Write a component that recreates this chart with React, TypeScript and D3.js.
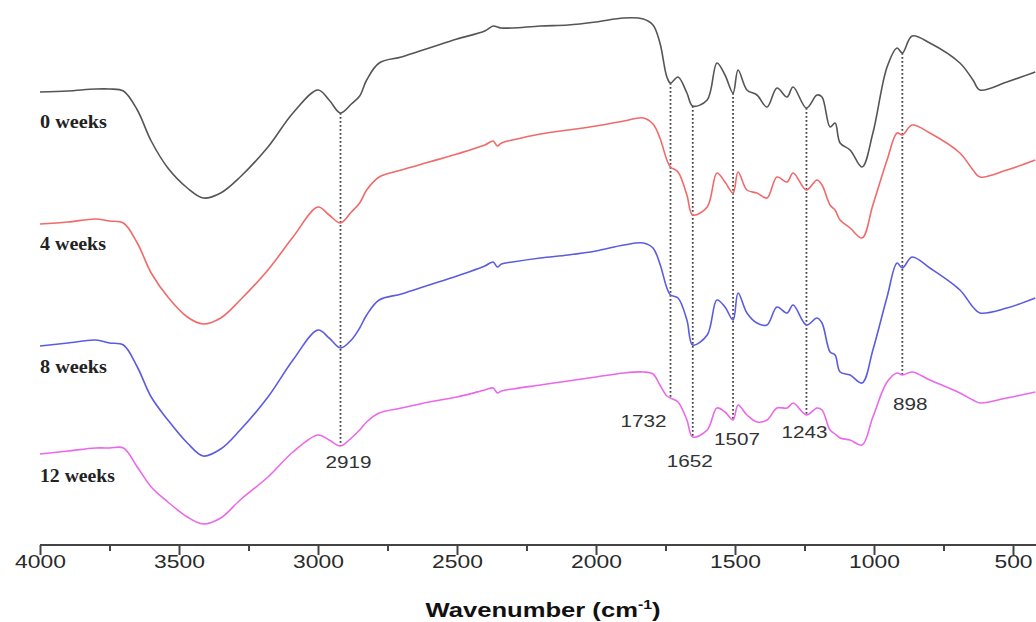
import React, { useEffect, useRef } from "react";
import * as d3 from "d3";

// wavenumbers (cm-1) at which the spectra were read
const wavenumbers = [
  4000, 3900, 3800, 3750, 3700, 3650, 3600, 3540, 3470, 3413, 3350, 3280, 3180, 3090, 3000, 2960, 2919, 2880,
  2850, 2825, 2780, 2700, 2600, 2500, 2400, 2370, 2355, 2340, 2300, 2200, 2100, 2000, 1900, 1830, 1795, 1770,
  1745, 1732, 1705, 1673, 1652, 1600, 1565, 1536, 1507, 1489, 1457, 1421, 1385, 1349, 1313, 1291, 1243, 1205,
  1187, 1158, 1140, 1122, 1086, 1043, 1004, 953, 917, 898, 863, 799, 691, 644, 619, 522, 420
];

// transmittance (a.u., stacked)
const week0 = [
  91.6, 91.8, 92.2, 92.2, 91.8, 88, 81.8, 76.4, 72.4, 70.4, 71.4, 74.6, 80.6, 87.4, 92, 90, 87.4, 89.2,
  90.8, 94, 97.4, 98.6, 100.4, 102.2, 103.8, 104.8, 104.6, 104.4, 104.4, 104.8, 105, 105.6, 106.4, 106.2, 105, 101.4,
  94.6, 93.4, 94.6, 91.4, 88.8, 90, 97.4, 95, 91.4, 96, 92, 91, 88.6, 92.4, 90.6, 92.6, 88.4, 91,
  90.6, 84.6, 85.4, 81.4, 80, 76.6, 83.4, 96.6, 100.4, 99.4, 102.8, 101.4, 97.4, 94, 92, 93.6, 95.6
];
const week4 = [
  65.2, 65.6, 66.2, 65.8, 65.4, 61.4, 55.4, 50.6, 46.6, 45.2, 46.4, 50, 56, 62.6, 68.6, 67, 65.4, 67.6,
  69.4, 72, 74.6, 76, 77.6, 79.2, 81, 81.8, 80.8, 81.4, 82, 83.2, 84, 84.8, 85.8, 86.4, 85.2, 82.4,
  78, 76.6, 75.6, 71, 67, 68.6, 75.4, 73.6, 71.4, 75.6, 72, 71.4, 70.4, 74.6, 73.6, 75.4, 72, 74,
  73, 69, 68, 66, 64.4, 62.4, 69, 78, 83.4, 83, 85, 83.4, 79.4, 76, 74.6, 76, 78
];
const week8 = [
  40.8, 41.4, 42, 41.4, 41, 36.6, 30.6, 26, 21.4, 18.8, 20.2, 24, 30.6, 38, 44, 42.4, 40.4, 42,
  44.4, 47, 50, 51.2, 53, 54.8, 56.8, 57.6, 56.6, 57.2, 57.6, 58.4, 59, 59.8, 61, 61.4, 60.4, 57.2,
  52.4, 51, 50.4, 46, 41, 43, 50, 48.6, 46, 51.4, 47.4, 45.4, 45, 48.6, 47.4, 49, 45, 46.4,
  45.4, 39.6, 39, 35.6, 35, 33.4, 40, 50.6, 57.4, 56.4, 58.6, 56.4, 52, 48.6, 47.4, 48.4, 50.4
];
const week12 = [
  19.2, 19.8, 20.4, 20.4, 20.4, 16.6, 12.6, 9.6, 6.6, 5.2, 6.4, 10, 14.6, 19.6, 23, 22, 20.8, 22.4,
  24, 25.6, 27.4, 28.4, 29.6, 30.6, 32, 32.4, 31.4, 31.8, 32.2, 33, 33.8, 34.6, 35.4, 35.6, 35.2, 33,
  30.8, 30.4, 29.6, 26, 22.6, 24, 28.4, 27.6, 26, 29, 27, 25.6, 26, 28.4, 28.4, 29.4, 27, 28.4,
  28, 24, 23.2, 22.4, 22, 21, 26.6, 33.6, 35.4, 35, 35.6, 34, 31.4, 30, 29.4, 30.4, 31.6
];

const seriesNames = ["0 weeks", "4 weeks", "8 weeks", "12 weeks"];
const peaks = [2919, 1732, 1652, 1507, 1243, 898];
const majorTicks = [4000, 3500, 3000, 2500, 2000, 1500, 1000, 500];
const minorTicks = [3750, 3250, 2750, 2250, 1750, 1250, 750];

const colors = ["#555555", "#f06a6a", "#5c5ce0", "#ea68ea"];

export default function App() {
  const svgRef = useRef<SVGSVGElement>(null);
  const width = 1036;
  const height = 622;

  useEffect(() => {
    document.body.style.margin = "0";
    const svg = d3.select(svgRef.current);
    svg.selectAll("*").remove();

    const x = d3.scaleLinear().domain([4000, 500]).range([40, 1013]);
    const y = d3.scaleLinear().domain([0, 110]).range([550, 0]);
    const axisY = 545;

    const series = [week0, week4, week8, week12];
    const line = d3.line<number>()
      .x((d, i) => x(wavenumbers[i]))
      .y(d => y(d))
      .curve(d3.curveCatmullRom.alpha(0.5));

    // dotted peak markers, from the top spectrum down to the bottom one
    const labelPlace: Record<number, [number, number]> = {
      2919: [8, 22], 1732: [-27, 29], 1652: [-3, 30], 1507: [4, 25], 1243: [-2, 23], 898: [8, 35]
    };
    peaks.forEach(p => {
      const i = wavenumbers.indexOf(p);
      svg.append("line")
        .attr("x1", x(p)).attr("x2", x(p))
        .attr("y1", y(week0[i])).attr("y2", y(week12[i]))
        .attr("stroke", "#444")
        .attr("stroke-width", 1.8)
        .attr("stroke-dasharray", "1.8,2.2");
      const [dx, dy] = labelPlace[p];
      const label = String(p);
      svg.append("text")
        .attr("x", x(p) + dx)
        .attr("y", y(week12[i]) + dy)
        .attr("text-anchor", "middle")
        .attr("font-family", "'Liberation Sans', Arial, sans-serif")
        .attr("font-size", 17)
        .attr("fill", "#333")
        .attr("textLength", label.length * 11.5)
        .attr("lengthAdjust", "spacingAndGlyphs")
        .text(label);
    });

    // spectra
    series.forEach((s, k) => {
      svg.append("path")
        .datum(s)
        .attr("fill", "none")
        .attr("stroke", colors[k])
        .attr("stroke-width", 1.6)
        .attr("stroke-linejoin", "round")
        .attr("d", line);
    });

    // series names
    const nameY = [128, 250, 373, 482];
    const nameLen = [67, 66, 67, 75];
    seriesNames.forEach((n, k) => {
      svg.append("text")
        .attr("x", 40)
        .attr("y", nameY[k])
        .attr("font-family", "'Liberation Serif', 'Times New Roman', serif")
        .attr("font-weight", "bold")
        .attr("font-size", 18)
        .attr("fill", "#222")
        .attr("textLength", nameLen[k])
        .attr("lengthAdjust", "spacingAndGlyphs")
        .text(n);
    });

    // x axis
    const g = svg.append("g").attr("transform", `translate(0,${axisY})`);
    g.append("line")
      .attr("x1", x(4000)).attr("x2", width)
      .attr("stroke", "#444").attr("stroke-width", 2);
    g.call(d3.axisBottom(x).tickValues(minorTicks).tickSize(6).tickFormat(() => ""))
      .call(gg => gg.select(".domain").remove());
    const major = svg.append("g").attr("transform", `translate(0,${axisY})`)
      .call(d3.axisBottom(x).tickValues(majorTicks).tickSize(10).tickFormat(d3.format("d")));
    major.select(".domain").remove();
    svg.selectAll(".tick line").attr("stroke", "#444").attr("stroke-width", 2);
    major.selectAll(".tick text")
      .attr("y", 23)
      .attr("dy", 0)
      .attr("font-family", "'Liberation Sans', Arial, sans-serif")
      .attr("font-size", 18)
      .attr("fill", "#2a2a2a")
      .attr("textLength", (d: any) => String(d).length * 12.7)
      .attr("lengthAdjust", "spacingAndGlyphs");

    // axis title (stretched horizontally like the source figure)
    const title = svg.append("g")
      .attr("transform", "translate(543,617) scale(1.22,1)")
      .append("text")
      .attr("text-anchor", "middle")
      .attr("font-family", "'Liberation Sans', Arial, sans-serif")
      .attr("font-weight", "bold")
      .attr("font-size", 21)
      .attr("fill", "#111");
    title.append("tspan").text("Wavenumber (cm");
    title.append("tspan").attr("font-size", 13).attr("dy", -8).text("-1");
    title.append("tspan").attr("dy", 8).text(")");
  }, []);

  return <svg ref={svgRef} width={width} height={height} style={{ display: "block", background: "#fff" }} />;
}
